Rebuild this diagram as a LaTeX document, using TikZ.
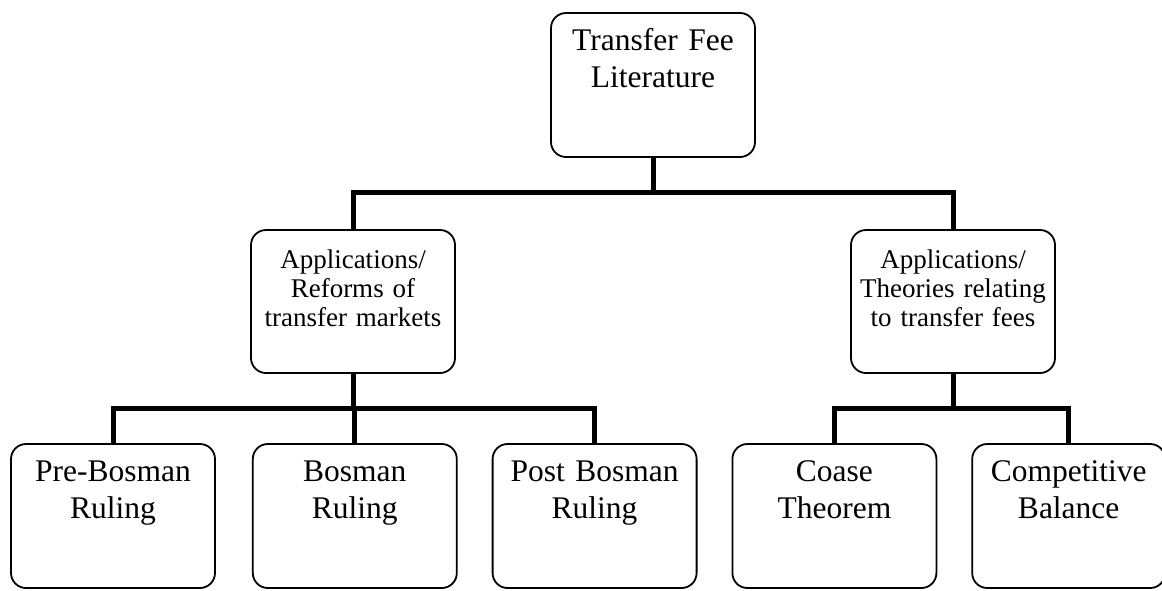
\documentclass[tikz,border=0pt]{standalone}
\usepackage{fontspec}
\setmainfont{Liberation Serif}
\usetikzlibrary{positioning}

\begin{document}
\begin{tikzpicture}[
x=1pt,y=1pt,
every node/.style={font=\fontsize{31.5}{37}\selectfont},
box/.style={draw=black,line width=1.8pt,rounded corners=15pt,inner xsep=2pt,inner ysep=0pt,
  text width=200pt,align=center,text height=37pt,text depth=107pt},
sub/.style={box,font=\fontsize{27}{29}\selectfont,text height=38pt,text depth=105pt},
link/.style={line width=5pt,draw=black}
]
\useasboundingbox (0,0) rectangle (1162,-590);

\node[box] (lit) at (653,-85) {Transfer Fee\\ Literature};

\node[sub] (reform) at (353,-301.5) {Applications/\\ Reforms of\\ transfer markets};
\node[sub] (theory) at (953,-301.5) {Applications/\\ Theories relating\\ to transfer fees};

\node[box] (pre) at (113,-516) {Pre-Bosman\\ Ruling};
\node[box,right=36pt of pre] (bos) {Bosman\\ Ruling};
\node[box,right=34pt of bos] (post) {Post Bosman\\ Ruling};
\node[box,right=34pt of post] (coase) {Coase\\ Theorem};
\node[box,text width=189pt,right=34pt of coase] (comp) {Competitive\\ Balance};

% top level
\draw[link] (lit.south) -- ++(0,-35) coordinate (ltop);
\draw[link] (reform.north) |- (ltop) -| (theory.north);

% reforms branch
\draw[link] (reform.south) -- ++(0,-35) coordinate (lleft);
\draw[link] (pre.north) |- (lleft) -| (post.north);
\draw[link] (bos.north) |- (lleft);

% theories branch
\draw[link] (theory.south) -- ++(0,-35) coordinate (lright);
\draw[link] (coase.north) |- (lright) -| (comp.north);
\end{tikzpicture}
\end{document}
